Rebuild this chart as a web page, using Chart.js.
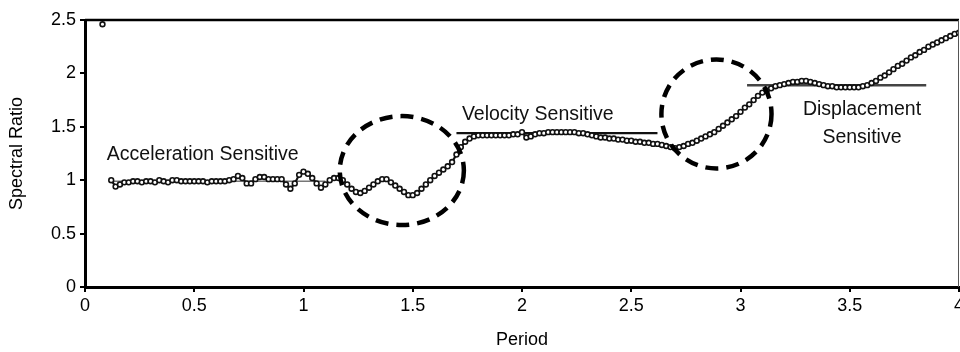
<!DOCTYPE html>
<html>
<head>
<meta charset="utf-8">
<script src="https://cdn.jsdelivr.net/npm/chart.js@4.4.1/dist/chart.umd.min.js"></script>
<style>
  html, body { margin: 0; padding: 0; background: #fff; }
  #wrap { width: 960px; height: 352px; }
</style>
</head>
<body>
<div id="wrap"><canvas id="c" width="960" height="352"></canvas></div>
<script>
// ---- data ----
const periods = [
  0.12,0.14,0.16,0.18,0.20,0.22,0.24,0.26,0.28,0.30,
  0.32,0.34,0.36,0.38,0.40,0.42,0.44,0.46,0.48,0.50,
  0.52,0.54,0.56,0.58,0.60,0.62,0.64,0.66,0.68,0.70,
  0.72,0.74,0.76,0.78,0.80,0.82,0.84,0.86,0.88,0.90,
  0.92,0.94,0.96,0.98,1.00,1.02,1.04,1.06,1.08,1.10,
  1.12,1.14,1.16,1.18,1.20,1.22,1.24,1.26,1.28,1.30,
  1.32,1.34,1.36,1.38,1.40,1.42,1.44,1.46,1.48,1.50,
  1.52,1.54,1.56,1.58,1.60,1.62,1.64,1.66,1.68,1.70,
  1.72,1.74,1.76,1.78,1.80,1.82,1.84,1.86,1.88,1.90,
  1.92,1.94,1.96,1.98,2.00,2.02,2.04,2.06,2.08,2.10,
  2.12,2.14,2.16,2.18,2.20,2.22,2.24,2.26,2.28,2.30,
  2.32,2.34,2.36,2.38,2.40,2.42,2.44,2.46,2.48,2.50,
  2.52,2.54,2.56,2.58,2.60,2.62,2.64,2.66,2.68,2.70,
  2.72,2.74,2.76,2.78,2.80,2.82,2.84,2.86,2.88,2.90,
  2.92,2.94,2.96,2.98,3.00,3.02,3.04,3.06,3.08,3.10,
  3.12,3.14,3.16,3.18,3.20,3.22,3.24,3.26,3.28,3.30,
  3.32,3.34,3.36,3.38,3.40,3.42,3.44,3.46,3.48,3.50,
  3.52,3.54,3.56,3.58,3.60,3.62,3.64,3.66,3.68,3.70,
  3.72,3.74,3.76,3.78,3.80,3.82,3.84,3.86,3.88,3.90,
  3.92,3.94,3.96,3.98,4.00
];
const spectralRatio = [
  1.00,0.94,0.96,0.98,0.98,0.99,0.99,0.98,0.99,0.99,
  0.98,1.00,0.99,0.98,1.00,1.00,0.99,0.99,0.99,0.99,
  0.99,0.99,0.98,0.99,0.99,0.99,0.99,1.00,1.01,1.04,
  1.02,0.97,0.97,1.01,1.03,1.03,1.01,1.01,1.01,1.01,
  0.96,0.92,0.97,1.05,1.08,1.06,1.02,0.97,0.93,0.96,
  1.00,1.02,1.02,1.00,0.96,0.92,0.89,0.88,0.90,0.93,
  0.96,0.99,1.01,1.01,0.98,0.95,0.92,0.89,0.86,0.86,
  0.88,0.92,0.96,1.00,1.04,1.07,1.10,1.13,1.17,1.24,
  1.31,1.36,1.39,1.41,1.42,1.42,1.42,1.42,1.42,1.42,
  1.42,1.42,1.43,1.43,1.45,1.40,1.41,1.43,1.44,1.44,
  1.45,1.45,1.45,1.45,1.45,1.45,1.45,1.44,1.44,1.43,
  1.42,1.41,1.40,1.40,1.39,1.39,1.38,1.38,1.37,1.37,
  1.36,1.36,1.35,1.35,1.34,1.34,1.33,1.32,1.31,1.30,
  1.31,1.32,1.34,1.35,1.37,1.39,1.41,1.43,1.45,1.48,
  1.51,1.54,1.57,1.60,1.64,1.68,1.71,1.75,1.79,1.82,
  1.84,1.86,1.88,1.89,1.90,1.91,1.92,1.92,1.93,1.93,
  1.92,1.91,1.90,1.89,1.88,1.88,1.87,1.87,1.87,1.87,
  1.87,1.87,1.88,1.89,1.91,1.93,1.96,1.98,2.01,2.04,
  2.07,2.09,2.12,2.15,2.17,2.20,2.22,2.25,2.27,2.29,
  2.31,2.33,2.35,2.37,2.38
];
const outlierPeriod = [0.08];
const outlierRatio = [2.46];

// reference level lines: [startPeriod, endPeriod, level]
const accelerationLevel = [0.12, 1.10, 0.99];
const velocityLevel = [1.70, 2.62, 1.44];
const displacementLevel = [3.03, 3.85, 1.89];

// dashed circles: [centerPeriod, centerRatio, radiusPeriod, radiusRatio]
const circle1 = [1.45, 1.09, 0.284, 0.51];
const circle2 = [2.89, 1.62, 0.252, 0.51];

// annotation texts: [text, period, ratio, align]
const labels = [
  ["Acceleration Sensitive", 0.10, 1.24, "left"],
  ["Velocity Sensitive", 1.725, 1.61, "left"],
  ["Displacement", 3.556, 1.66, "center"],
  ["Sensitive", 3.556, 1.40, "center"]
];

const xTicks = [0, 0.5, 1, 1.5, 2, 2.5, 3, 3.5, 4];
const yTicks = [0, 0.5, 1, 1.5, 2, 2.5];

// ---- build ----
const seriesPts = periods.map((p, i) => ({ x: p, y: spectralRatio[i] }));
const outlierPts = outlierPeriod.map((p, i) => ({ x: p, y: outlierRatio[i] }));
const lvl = a => [{ x: a[0], y: a[2] }, { x: a[1], y: a[2] }];

const FONT = "'Liberation Sans', Arial, Helvetica, sans-serif";

const decorPlugin = {
  id: 'decor',
  afterDatasetsDraw(chart) {
    const { ctx, chartArea, scales: { x, y } } = chart;
    ctx.save();
    // dashed circles
    [circle1, circle2].forEach(c => {
      const cx = x.getPixelForValue(c[0]);
      const cy = y.getPixelForValue(c[1]);
      const rx = Math.abs(x.getPixelForValue(c[0] + c[2]) - cx);
      const ry = Math.abs(y.getPixelForValue(c[1] + c[3]) - cy);
      ctx.beginPath();
      ctx.setLineDash([13, 8]);
      ctx.lineWidth = 4.5;
      ctx.strokeStyle = '#000';
      ctx.ellipse(cx, cy, rx, ry, 0, 0, Math.PI * 2);
      ctx.stroke();
    });
    ctx.setLineDash([]);
    // texts
    ctx.fillStyle = '#111';
    ctx.font = '19.5px ' + FONT;
    ctx.textBaseline = 'middle';
    labels.forEach(l => {
      ctx.textAlign = l[3];
      ctx.fillText(l[0], x.getPixelForValue(l[1]), y.getPixelForValue(l[2]));
    });
    // frame top / right
    ctx.strokeStyle = '#000';
    ctx.lineWidth = 2.5;
    ctx.beginPath();
    ctx.moveTo(chartArea.left, chartArea.top);
    ctx.lineTo(chartArea.right, chartArea.top);
    ctx.stroke();
    ctx.strokeStyle = '#555';
    ctx.lineWidth = 1;
    ctx.beginPath();
    ctx.moveTo(chartArea.right - 0.5, chartArea.top);
    ctx.lineTo(chartArea.right - 0.5, chartArea.bottom);
    ctx.stroke();
    ctx.restore();
  }
};

const fmt = v => String(Number(Number(v).toFixed(2)));

new Chart(document.getElementById('c'), {
  type: 'scatter',
  data: {
    datasets: [
      { data: lvl(accelerationLevel), showLine: true, borderColor: '#777', borderWidth: 1.5, pointRadius: 0, order: 3 },
      { data: lvl(velocityLevel), showLine: true, borderColor: '#111', borderWidth: 2.2, pointRadius: 0, order: 3 },
      { data: lvl(displacementLevel), showLine: true, borderColor: '#444', borderWidth: 2.5, pointRadius: 0, order: 3 },
      { data: seriesPts, showLine: true, borderColor: '#111', borderWidth: 2.2,
        pointRadius: 2.4, pointBackgroundColor: '#fff', pointBorderColor: '#111', pointBorderWidth: 1.6, order: 1 },
      { data: outlierPts, showLine: false,
        pointRadius: 2.4, pointBackgroundColor: '#fff', pointBorderColor: '#111', pointBorderWidth: 1.6, order: 1 }
    ]
  },
  options: {
    responsive: false,
    animation: false,
    layout: { autoPadding: false, padding: { top: 20, right: 1, left: 0, bottom: 0 } },
    plugins: { legend: { display: false }, tooltip: { enabled: false } },
    scales: {
      x: {
        type: 'linear', min: 0, max: 4,
        afterBuildTicks: s => { s.ticks = xTicks.map(v => ({ value: v })); },
        afterFit: s => { s.height = 65; s.paddingLeft = 0; s.paddingRight = 0; },
        grid: { drawOnChartArea: false, drawTicks: true, tickLength: 5, color: '#000', lineWidth: 2 },
        border: { display: true, color: '#000', width: 3 },
        ticks: { color: '#000', font: { family: FONT, size: 18 }, padding: 3, maxRotation: 0, autoSkip: false, callback: fmt },
        title: { display: true, text: 'Period', color: '#000', font: { family: FONT, size: 18 }, padding: { top: 0, bottom: 1 } }
      },
      y: {
        type: 'linear', min: 0, max: 2.5,
        afterBuildTicks: s => { s.ticks = yTicks.map(v => ({ value: v })); },
        afterFit: s => { s.width = 85; s.paddingTop = 0; s.paddingBottom = 0; },
        grid: { drawOnChartArea: false, drawTicks: true, tickLength: 5, color: '#000', lineWidth: 2 },
        border: { display: true, color: '#000', width: 3 },
        ticks: { color: '#000', font: { family: FONT, size: 18 }, padding: 4, autoSkip: false, callback: fmt },
        title: { display: true, text: 'Spectral Ratio', color: '#000', font: { family: FONT, size: 18 }, padding: { top: 6, bottom: 0 } }
      }
    }
  },
  plugins: [decorPlugin]
});
</script>
</body>
</html>
